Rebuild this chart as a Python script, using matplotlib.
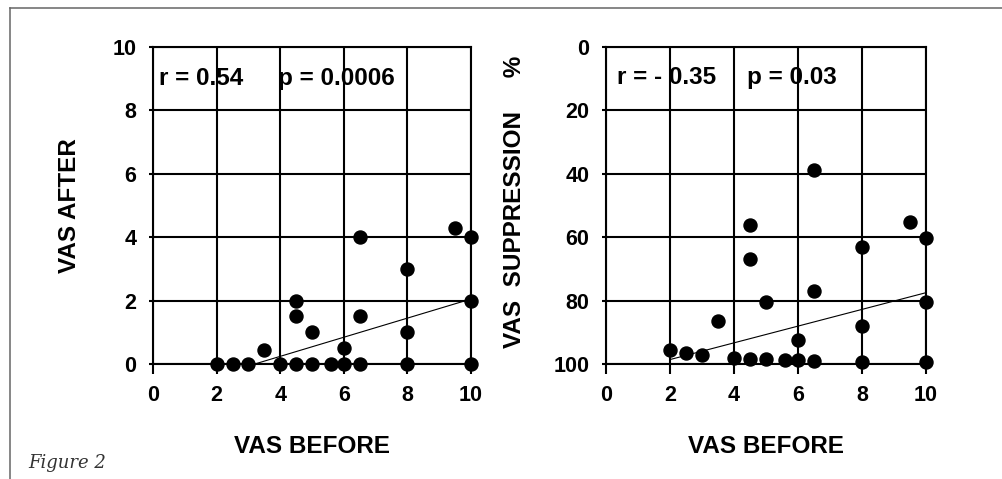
import matplotlib
matplotlib.use("Agg")
import matplotlib.pyplot as plt
from matplotlib.lines import Line2D
from matplotlib import font_manager as fm

plt.rcParams['font.family'] = ['Liberation Sans', 'DejaVu Sans']

# Data
vas_before = [2, 2.5, 3, 3.5, 4, 4.5, 4.5, 4.5, 5, 5, 5.6, 6, 6, 6.5, 6.5, 6.5, 8, 8, 8, 9.5, 10, 10, 10]
vas_after = [0, 0, 0, 0.45, 0, 0, 1.5, 2, 0, 1, 0, 0, 0.5, 0, 1.5, 4, 0, 1, 3, 4.3, 0, 2, 4]
suppression = [95.5, 96.5, 97.2, 86.5, 98.2, 98.3, 67, 56, 98.5, 80.5, 98.6, 98.6, 92.5, 99, 77, 38.8, 99.3, 88, 63, 55.2, 99.5, 80.3, 60.3]

trend_left_x = [3.2, 10]
trend_left_y = [0, 2.05]
trend_right_x = [2, 10]
trend_right_y = [98.6, 77.5]

ticks_x = [0, 2, 4, 6, 8, 10]
ticks_left_y = [0, 2, 4, 6, 8, 10]
ticks_right_y = [0, 20, 40, 60, 80, 100]

# Find regular-width Liberation Sans Bold file
bold_path = None
for f in fm.fontManager.ttflist:
    if f.fname.endswith('LiberationSans-Bold.ttf'):
        bold_path = f.fname
        break

def fp(size):
    if bold_path:
        return fm.FontProperties(fname=bold_path, size=size)
    return fm.FontProperties(family='Liberation Sans', weight='bold', size=size)

W, H = 1002, 479
fig = plt.figure(figsize=(W / 100, H / 100), dpi=100)
fig.patch.set_facecolor('white')

ax1 = fig.add_axes([153 / W, (H - 364) / H, 318 / W, 317 / H])
ax2 = fig.add_axes([606 / W, (H - 364) / H, 320 / W, 317 / H])

TICK = 15.5
ANN = 17.5
LAB = 17.5

def style(ax):
    for s in ax.spines.values():
        s.set_linewidth(1.5)
        s.set_color('black')
    ax.grid(True, color='black', linewidth=1.5)
    ax.set_axisbelow(True)
    ax.tick_params(axis='x', length=7, width=1.5, pad=8)
    ax.tick_params(axis='y', length=3, width=1.5, pad=9)
    for lab in ax.get_xticklabels() + ax.get_yticklabels():
        lab.set_fontproperties(fp(TICK))

# Left plot
ax1.set_xlim(0, 10)
ax1.set_ylim(0, 10)
ax1.set_xticks(ticks_x)
ax1.set_yticks(ticks_left_y)
ax1.scatter(vas_before, vas_after, s=88, color='black', zorder=3, clip_on=False)
ax1.plot(trend_left_x, trend_left_y, color='black', linewidth=0.8, zorder=2)
ax1.text(0.2, 9.0, 'r = 0.54', fontproperties=fp(ANN), va='center')
ax1.text(3.93, 9.0, 'p = 0.0006', fontproperties=fp(ANN), va='center')
ax1.set_xlabel('VAS BEFORE', fontproperties=fp(LAB))
ax1.set_ylabel('VAS AFTER', fontproperties=fp(LAB))
ax1.xaxis.set_label_coords(0.5, -0.225)
ax1.yaxis.set_label_coords(-0.225, 0.5)
style(ax1)

# Right plot
ax2.set_xlim(0, 10)
ax2.set_ylim(100, 0)
ax2.set_xticks(ticks_x)
ax2.set_yticks(ticks_right_y)
ax2.scatter(vas_before, suppression, s=88, color='black', zorder=3, clip_on=False)
ax2.plot(trend_right_x, trend_right_y, color='black', linewidth=0.8, zorder=2)
ax2.text(0.34, 9.5, 'r = - 0.35', fontproperties=fp(ANN), va='center')
ax2.text(4.4, 9.5, 'p = 0.03', fontproperties=fp(ANN), va='center')
ax2.set_xlabel('VAS BEFORE', fontproperties=fp(LAB))
ax2.set_ylabel('VAS  SUPPRESSION     %', fontproperties=fp(LAB))
ax2.xaxis.set_label_coords(0.5, -0.225)
ax2.yaxis.set_label_coords(-0.25, 0.51)
style(ax2)

# Frame lines
fig.add_artist(Line2D([10 / W, 10 / W], [0, 1 - 8 / H], transform=fig.transFigure,
                      color='#666666', linewidth=1.1))
fig.add_artist(Line2D([10 / W, 1], [1 - 8 / H, 1 - 8 / H], transform=fig.transFigure,
                      color='#666666', linewidth=1.1))

fig.text(28 / W, 1 - 468 / H, 'Figure 2', fontsize=13, style='italic',
         family=['DejaVu Serif'], color='#333333', va='baseline')

fig.savefig('out.png', dpi=100, facecolor='white')
